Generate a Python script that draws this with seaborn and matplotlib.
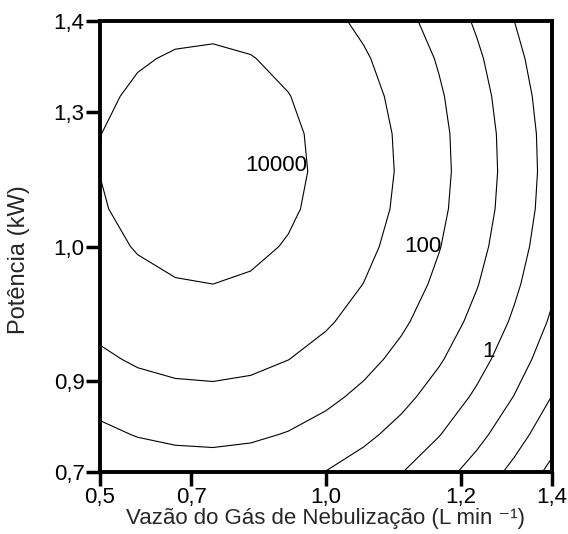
import matplotlib
matplotlib.use('Agg')
import matplotlib.pyplot as plt
import numpy as np
import seaborn as sns

# coded levels (central composite design, alpha = 1.68)
u_coded = [-1.68, -1.40, -1.12, -0.84, -0.56, -0.28, 0.0, 0.28, 0.56, 0.84, 1.12, 1.40, 1.68]
v_coded = [-1.68, -1.40, -1.12, -0.84, -0.56, -0.28, 0.0, 0.28, 0.56, 0.84, 1.12, 1.40, 1.68]

# log10 of the response; rows = potencia (bottom -> top), cols = vazao
log_resp = [
    [1.13, 1.39, 1.53, 1.57, 1.49, 1.29, 0.98, 0.56, 0.03, -0.62, -1.38, -2.26, -3.25],
    [1.79, 2.05, 2.19, 2.23, 2.15, 1.95, 1.64, 1.22, 0.69, 0.04, -0.72, -1.60, -2.59],
    [2.36, 2.62, 2.76, 2.80, 2.72, 2.52, 2.21, 1.79, 1.26, 0.61, -0.15, -1.03, -2.02],
    [2.85, 3.11, 3.25, 3.29, 3.21, 3.01, 2.70, 2.28, 1.75, 1.10, 0.34, -0.54, -1.53],
    [3.25, 3.51, 3.65, 3.69, 3.61, 3.41, 3.10, 2.68, 2.15, 1.50, 0.74, -0.14, -1.13],
    [3.56, 3.82, 3.96, 4.00, 3.92, 3.72, 3.41, 2.99, 2.46, 1.81, 1.05, 0.17, -0.82],
    [3.79, 4.05, 4.19, 4.23, 4.15, 3.95, 3.64, 3.22, 2.69, 2.04, 1.28, 0.40, -0.59],
    [3.94, 4.20, 4.34, 4.38, 4.30, 4.10, 3.79, 3.37, 2.84, 2.19, 1.43, 0.55, -0.44],
    [4.01, 4.26, 4.40, 4.44, 4.36, 4.16, 3.85, 3.43, 2.90, 2.25, 1.49, 0.61, -0.38],
    [3.99, 4.23, 4.37, 4.41, 4.33, 4.13, 3.82, 3.40, 2.87, 2.22, 1.46, 0.58, -0.41],
    [3.86, 4.12, 4.26, 4.30, 4.22, 4.02, 3.71, 3.29, 2.76, 2.11, 1.35, 0.47, -0.52],
    [3.67, 3.93, 4.07, 4.11, 4.03, 3.83, 3.52, 3.10, 2.57, 1.92, 1.16, 0.28, -0.71],
    [3.39, 3.65, 3.79, 3.83, 3.75, 3.55, 3.24, 2.82, 2.29, 1.64, 0.88, 0.00, -0.99],
]

contour_levels = [-3, -2, -1, 0, 1, 2, 3, 4]
label_text = {0: '1', 2: '100', 4: '10000'}
label_pos = [(1.25, -0.78), (0.86, 0.0), (-0.10, 0.61)]

x_tick_pos = [-1.68, -1, 0, 1, 1.68]
x_tick_lab = ['0,5', '0,7', '1,0', '1,2', '1,4']
y_tick_pos = [-1.68, -1, 0, 1, 1.68]
y_tick_lab = ['0,7', '0,9', '1,0', '1,3', '1,4']

sns.set_style('ticks')
plt.rcParams['font.family'] = ['Liberation Sans', 'DejaVu Sans']

fig = plt.figure(figsize=(5.68, 5.34), dpi=100)
ax = fig.add_axes([100 / 568, 1 - 472 / 534, 452 / 568, 451 / 534])

U, V = np.meshgrid(u_coded, v_coded)
Z = np.array(log_resp)
cs = ax.contour(U, V, Z, levels=contour_levels, colors='black', linewidths=0.8,
                linestyles='solid', negative_linestyles='solid')

ax.set_xlim(-1.68, 1.68)
ax.set_ylim(-1.68, 1.68)

labels = ax.clabel(cs, fmt=lambda lv: label_text.get(int(round(lv)), ''),
                   manual=label_pos, inline=False, fontsize=16)
for t in labels:
    t.set_rotation(0)
    t.set_horizontalalignment('right')
    t.set_verticalalignment('center')

ax.set_xticks(x_tick_pos)
ax.set_xticklabels(x_tick_lab)
ax.set_yticks(y_tick_pos)
ax.set_yticklabels(y_tick_lab)
ax.tick_params(direction='out', length=10, width=2.5, labelsize=16, pad=1, colors='black')

for s in ax.spines.values():
    s.set_linewidth(2.8)
    s.set_color('black')

ax.set_xlabel('Vazão do Gás de Nebulização (L min ⁻¹)', fontsize=16, labelpad=0)
ax.set_ylabel('Potência (kW)', fontsize=17)
ax.yaxis.set_label_coords(-0.155, 0.47)

fig.savefig('out.png', dpi=100, facecolor='white')
